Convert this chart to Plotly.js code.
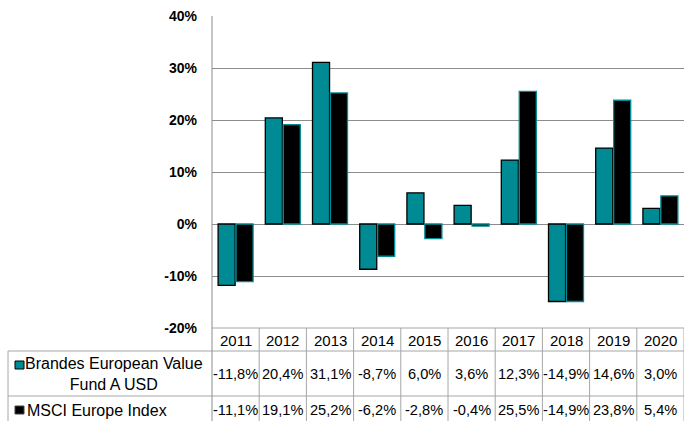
<!DOCTYPE html>
<html>
<head>
<meta charset="utf-8">
<script src="https://cdn.plot.ly/plotly-3.0.1.min.js"></script>
<style>html,body{margin:0;padding:0;background:#fff;}#chart{width:684px;height:421px;}</style>
</head>
<body>
<div id="chart"></div>
<script>
const years = ['2011','2012','2013','2014','2015','2016','2017','2018','2019','2020'];
const fundName = 'Brandes European Value<br>Fund A USD';
const indexName = 'MSCI Europe Index';
const fundValues = [-11.8, 20.4, 31.1, -8.7, 6.0, 3.6, 12.3, -14.9, 14.6, 3.0];
const indexValues = [-11.1, 19.1, 25.2, -6.2, -2.8, -0.4, 25.5, -14.9, 23.8, 5.4];
const yTickVals = [-20, -10, 0, 10, 20, 30, 40];
const yTickText = ['-20%', '-10%', '0%', '10%', '20%', '30%', '40%'];

const TEAL = '#008B94';
const GRID = '#8c8c8c';
const TABLE = '#a6a6a6';
const FONT = 'Liberation Sans, Arial, sans-serif';

const W = 684, H = 421;
const mL = 212, mR = 0, mT = 16, mB = 93;
const plotW = W - mL - mR, plotH = H - mT - mB;
const px = x => (x - mL) / plotW;          // pixel x -> paper x
const py = y => (H - mB - y) / plotH;      // pixel y -> paper y

const fmt = v => v.toFixed(1).replace('.', ',') + '%';

const traces = [
  {type: 'bar', name: 'fund', x: years, y: fundValues,
   marker: {color: TEAL, line: {color: '#000', width: 1.3}}, hoverinfo: 'skip'},
  {type: 'bar', name: 'index', x: years, y: indexValues,
   marker: {color: '#000', line: {color: TEAL, width: 1.3}}, hoverinfo: 'skip'}
];

const shapes = [];
const annotations = [];
const n = years.length;
[351, 396].forEach(y => shapes.push({type: 'line', xref: 'paper', yref: 'paper',
  x0: px(8), x1: 1, y0: py(y), y1: py(y), line: {color: TABLE, width: 1}}));
shapes.push({type: 'line', xref: 'paper', yref: 'paper', x0: 0, x1: 1, y0: 0, y1: 0,
  line: {color: TABLE, width: 1}});
shapes.push({type: 'line', xref: 'paper', yref: 'paper', x0: px(8), x1: px(8),
  y0: py(351), y1: py(425), line: {color: TABLE, width: 1}});
for (let k = 0; k <= n; k++) {
  const xp = k / n;
  shapes.push({type: 'line', xref: 'paper', yref: 'paper', x0: xp, x1: xp,
    y0: py(425), y1: k === 0 ? 1 : 0, line: {color: k === 0 ? GRID : TABLE, width: 1}});
}
shapes.push({type: 'rect', xref: 'paper', yref: 'paper', x0: px(15), x1: px(24),
  y0: py(369), y1: py(361), fillcolor: TEAL, line: {color: '#000', width: 1}});
shapes.push({type: 'rect', xref: 'paper', yref: 'paper', x0: px(15), x1: px(24),
  y0: py(414), y1: py(406), fillcolor: '#000', line: {color: '#444', width: 1}});

annotations.push({xref: 'paper', yref: 'paper', x: px(114), y: py(374), text: fundName,
  showarrow: false, xanchor: 'center', yanchor: 'middle', align: 'center',
  font: {family: FONT, size: 16, color: '#000'}});
annotations.push({xref: 'paper', yref: 'paper', x: px(25), y: py(410), text: indexName,
  showarrow: false, xanchor: 'left', yanchor: 'middle',
  font: {family: FONT, size: 16, color: '#000'}});

years.forEach((yr, i) => {
  const xc = (i + 0.5) / n;
  annotations.push({xref: 'paper', yref: 'paper', x: xc, y: py(340), text: yr, showarrow: false,
    xanchor: 'center', yanchor: 'middle', font: {family: FONT, size: 15, color: '#000'}});
  annotations.push({xref: 'paper', yref: 'paper', x: xc, y: py(374), text: fmt(fundValues[i]), showarrow: false,
    xanchor: 'center', yanchor: 'middle', font: {family: FONT, size: 14.6, color: '#000'}});
  annotations.push({xref: 'paper', yref: 'paper', x: xc, y: py(410), text: fmt(indexValues[i]), showarrow: false,
    xanchor: 'center', yanchor: 'middle', font: {family: FONT, size: 14.6, color: '#000'}});
});

const layout = {
  width: W, height: H,
  margin: {l: mL, r: mR, t: mT, b: mB, pad: 0},
  paper_bgcolor: '#fff', plot_bgcolor: '#fff',
  showlegend: false,
  barmode: 'group', bargap: 0.24, bargroupgap: 0.05,
  xaxis: {type: 'category', range: [-0.5, n - 0.5], showticklabels: false, showgrid: false, zeroline: false,
    showline: false, ticks: '', fixedrange: true},
  yaxis: {range: [-20, 40], tickvals: yTickVals, ticktext: yTickText,
    showgrid: true, gridcolor: GRID, gridwidth: 1, zeroline: false,
    showline: false, ticks: '', ticklabelstandoff: 14,
    tickfont: {family: FONT, size: 14, color: '#000', weight: 'bold'}, fixedrange: true},
  shapes: shapes,
  annotations: annotations
};

Plotly.newPlot('chart', traces, layout, {displayModeBar: false, staticPlot: true});
</script>
</body>
</html>
